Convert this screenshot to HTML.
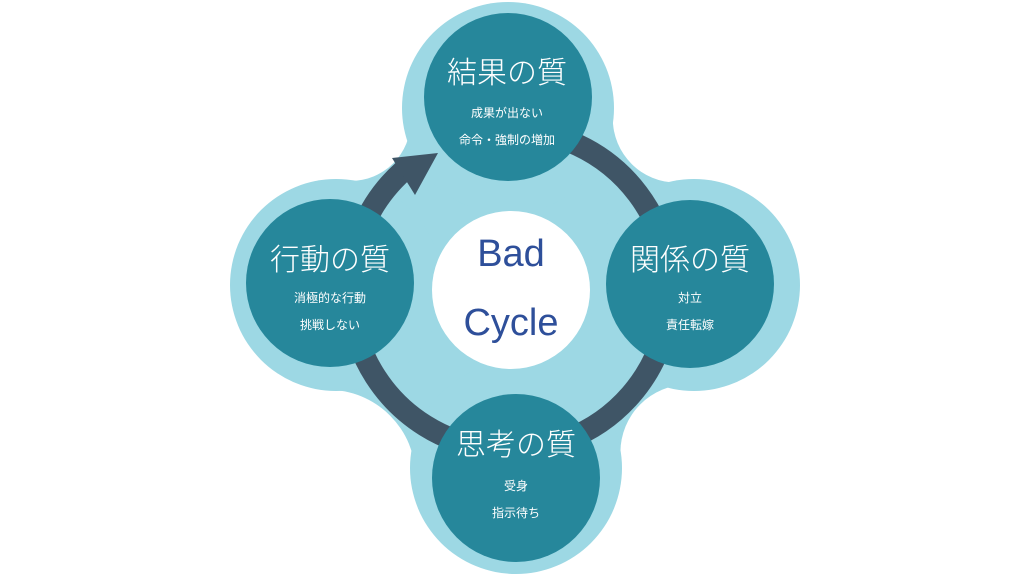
<!DOCTYPE html>
<html><head><meta charset="utf-8"><style>
html,body{margin:0;padding:0;background:#fff;}
svg{display:block}
text{font-family:"Liberation Sans","Noto Sans CJK JP",sans-serif;}
.t{fill:#fff;font-size:30px;text-anchor:middle;font-weight:300}
.s{fill:#fff;font-size:12px;text-anchor:middle}
</style></head><body>
<svg width="1024" height="576" viewBox="0 0 1024 576" xmlns="http://www.w3.org/2000/svg">
<polygon fill="#9dd8e4" points="508,108 676.8,118.6 694,285 688.4,452.4 516,468 327.7,477.7 336,285 350.8,120.9"/>
<g fill="#fff">
<circle cx="676.8" cy="118.6" r="64"/>
<circle cx="688.4" cy="452.4" r="68"/>
<circle cx="327.7" cy="477.7" r="88"/>
<circle cx="350.8" cy="120.9" r="60"/>
</g>
<g fill="#9dd8e4">
<circle cx="508" cy="108" r="106"/>
<circle cx="336" cy="285" r="106"/>
<circle cx="694" cy="285" r="106"/>
<circle cx="516" cy="468" r="106"/>
</g>
<path d="M510 130 A160 160 0 1 1 403 171" fill="none" stroke="#3f5566" stroke-width="22"/>
<polygon points="438,153 392,158 415,195" fill="#3f5566"/>
<g fill="#26879b">
<circle cx="508" cy="97" r="84"/>
<circle cx="330" cy="283" r="84"/>
<circle cx="690" cy="284" r="84"/>
<circle cx="516" cy="478" r="84"/>
</g>
<circle cx="511" cy="290" r="79" fill="#fff"/>
<text x="511" y="266" font-size="38" fill="#2e4f9a" text-anchor="middle">Bad</text>
<text x="511" y="335" font-size="38" fill="#2e4f9a" text-anchor="middle">Cycle</text>
<text class="t" x="507" y="83">結果の質</text>
<text class="s" x="507" y="117">成果が出ない</text>
<text class="s" x="507" y="144">命令・強制の増加</text>
<text class="t" x="330" y="270">行動の質</text>
<text class="s" x="330" y="302">消極的な行動</text>
<text class="s" x="330" y="329">挑戦しない</text>
<text class="t" x="690" y="270">関係の質</text>
<text class="s" x="690" y="302">対立</text>
<text class="s" x="690" y="329">責任転嫁</text>
<text class="t" x="516" y="455">思考の質</text>
<text class="s" x="516" y="490">受身</text>
<text class="s" x="516" y="517">指示待ち</text>
</svg>
</body></html>
